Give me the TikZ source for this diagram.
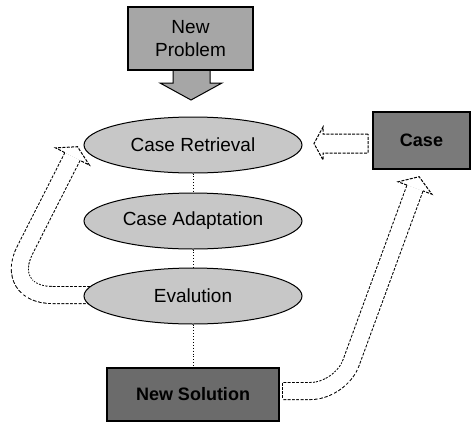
\documentclass[tikz,border=0pt]{standalone}
\usepackage{fontspec}
\setmainfont{Liberation Sans}
\usetikzlibrary{shapes.geometric}
\begin{document}
\begin{tikzpicture}[x=1pt,y=-1pt,
  dashline/.style={draw=black, line width=1pt, dash pattern=on 3pt off 1.3pt},
  shaft/.style={line width=1pt, double=white, double distance=16pt},
  shaftgap/.style={draw=white, line width=20pt, dash pattern=on 1.3pt off 3pt},
  ell/.style={ellipse, draw=black, line width=1pt, fill=black!22, minimum width=218pt, minimum height=56pt, inner sep=0pt, font=\fontsize{19}{22}\selectfont},
  box/.style={rectangle, draw=black, line width=1.2pt, inner sep=0pt, font=\fontsize{19}{24}\selectfont, align=center},
  darkbox/.style={box, fill=black!58, font=\bfseries\fontsize{18}{22}\selectfont}]
\useasboundingbox (0,0) rectangle (471,426);

% New Problem block arrow (behind the box)
\coordinate (npa1) at (173,70);
\coordinate (npa2) at (173,83);
\coordinate (npa3) at (160,83);
\coordinate (npat) at (191,100);
\coordinate (npa5) at (222,83);
\coordinate (npa6) at (210,83);
\coordinate (npa7) at (210,70);
\draw[fill=black!35, line width=1pt] (npa1) -- (npa2) -- (npa3) -- (npat) -- (npa5) -- (npa6) -- (npa7) -- cycle;

% left curved hollow arrow (Evalution -> Case Retrieval)
\coordinate (la0) at (100,295);
\coordinate (la1) at (2.1,295);
\coordinate (laB) at (72.5,156.5);
\draw[shaft, rounded corners=50pt] (la0) -- (la1) -- (laB);
\draw[shaftgap, rounded corners=50pt] (la0) -- (la1) -- (laB);
\coordinate (lase1) at (64.8,152.6);
\coordinate (lac1) at (55.6,147.9);
\coordinate (latip) at (77.5,146.7);
\coordinate (lac2) at (89.4,165.1);
\coordinate (lase2) at (80.2,160.4);
\fill[white] (lase1) -- (lac1) -- (latip) -- (lac2) -- (lase2) -- cycle;
\draw[dashline] (lase1) -- (lac1) -- (latip) -- (lac2) -- (lase2);

% right curved hollow arrow (New Solution -> Case)
\coordinate (ra0) at (282,391);
\coordinate (ra1) at (340.7,391);
\coordinate (raB) at (415,188);
\draw[shaft, rounded corners=30pt] (ra0) -- (ra1) -- (raB);
\draw[shaftgap, rounded corners=30pt] (ra0) -- (ra1) -- (raB);
\coordinate (rat1) at (282,382.5);
\coordinate (rat2) at (282,399.5);
\draw[dashline] (rat1) -- (rat2);
\coordinate (rase1) at (407.0,185.1);
\coordinate (rac1) at (398.1,181.8);
\coordinate (ratip) at (419.1,176.7);
\coordinate (rac2) at (431.9,194.2);
\coordinate (rase2) at (423.0,190.9);
\fill[white] (rase1) -- (rac1) -- (ratip) -- (rac2) -- (rase2) -- cycle;
\draw[dashline] (rase1) -- (rac1) -- (ratip) -- (rac2) -- (rase2);

% straight hollow arrow (Case -> Case Retrieval)
\coordinate (sa1) at (368,134);
\coordinate (sa2) at (323,134);
\coordinate (sa3) at (323,127);
\coordinate (satip) at (314,143.5);
\coordinate (sa5) at (323,160);
\coordinate (sa6) at (323,153);
\coordinate (sa7) at (368,153);
\draw[dashline, fill=white] (sa1) -- (sa2) -- (sa3) -- (satip) -- (sa5) -- (sa6) -- (sa7) -- cycle;

% nodes
\node[box, fill=black!35, minimum width=125pt, minimum height=63pt] (np) at (190.5,38.5) {New\\[-1pt]Problem};
\node[ell] (ret) at (193,145) {Case Retrieval};
\node[ell] (ada) at (193,221) {Case Adaptation};
\node[ell] (eva) at (193,296) {Evalution};
\node[darkbox, minimum width=172pt, minimum height=53pt] (ns) at (193,394.5) {New Solution};
\node[darkbox, fill=black!52, minimum width=97pt, minimum height=57pt] (case) at (421.5,140.5) {Case};

% dotted links
\draw[dotted, line width=0.9pt] (ret) -- (ada);
\draw[dotted, line width=0.9pt] (ada) -- (eva);
\draw[dotted, line width=0.9pt] (eva) -- (ns);
\end{tikzpicture}
\end{document}
